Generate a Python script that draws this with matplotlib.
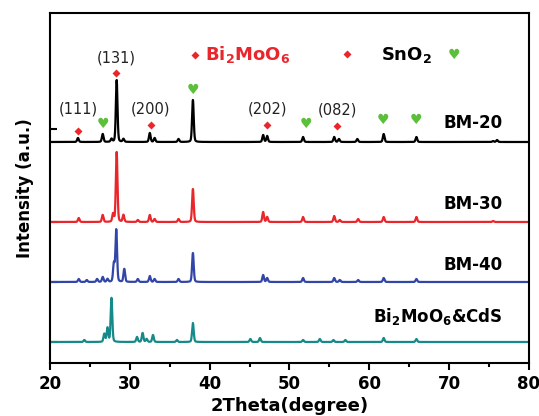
import numpy as np
from matplotlib import pyplot as plt

# peak positions (2theta) and heights, per sample
bm20_pos = [23.5, 26.6, 27.7, 28.35, 29.2, 32.5, 33.1, 36.1, 37.9, 46.7, 47.2, 51.7, 55.6, 56.2, 58.5, 61.8, 65.9, 75.5, 76.0]
bm20_h = [4, 8, 3, 62, 3, 9, 4, 3, 42, 7, 6, 5, 5, 3, 3, 8, 5, 1, 2]
bm30_pos = [23.6, 26.6, 27.9, 28.35, 29.2, 31.0, 32.5, 33.1, 36.1, 37.9, 46.7, 47.2, 51.7, 55.6, 56.3, 58.6, 61.8, 65.9, 75.5]
bm30_h = [4, 7, 8, 70, 7, 2, 7, 3, 3, 33, 10, 5, 5, 6, 2, 3, 5, 5, 1]
bm40_pos = [23.6, 24.6, 25.9, 26.6, 27.2, 28.0, 28.3, 29.3, 31.0, 32.5, 33.1, 36.1, 37.9, 46.7, 47.2, 51.7, 55.6, 56.3, 58.6, 61.8, 65.9]
bm40_h = [3, 2, 3, 5, 3, 18, 52, 13, 3, 6, 3, 3, 29, 7, 4, 4, 4, 2, 2, 4, 3]
cds_pos = [24.3, 26.8, 27.2, 27.7, 30.9, 31.6, 32.1, 32.9, 35.9, 37.9, 45.1, 46.3, 51.7, 53.8, 55.5, 57.0, 61.8, 65.9]
cds_h = [2, 8, 14, 44, 5, 9, 3, 7, 2, 19, 3, 4, 2, 3, 2, 2, 4, 3]

samples = ['BM-20', 'BM-30', 'BM-40', r'$\mathbf{Bi_2MoO_6}$&CdS']
offsets = [221, 141, 81, 21]
colors = ['black', '#e8262b', '#3246a8', '#16898a']

# reflections marked on the BM-20 pattern
bmo_marks = [23.5, 28.3, 32.6, 47.2, 56.0]
bmo_mark_y = [232, 290, 238, 238, 237]
bmo_hkl = ['(111)', '(131)', '(200)', '(202)', '(082)']
bmo_hkl_y = [254, 305, 254, 254, 253]
sno_marks = [26.6, 37.9, 52.1, 61.7, 65.8]
sno_mark_y = [239, 273, 239, 243, 243]

x = np.linspace(20, 80, 4000)


def pattern(pos, h, w=0.12):
    # pseudo-voigt, mostly gaussian
    y = np.zeros_like(x)
    for p, a in zip(pos, h):
        g = np.exp(-0.5 * ((x - p) / (w * 0.85)) ** 2)
        l = 1 / (1 + ((x - p) / w) ** 2)
        y += a * (0.75 * g + 0.25 * l)
    return y


fig = plt.figure(figsize=(5.39, 4.16), dpi=100)
ax = fig.add_axes([0.0928, 0.1274, 0.8886, 0.8414])

data = [(bm20_pos, bm20_h), (bm30_pos, bm30_h), (bm40_pos, bm40_h), (cds_pos, cds_h)]
for (pos, h), off, c in zip(data, offsets, colors):
    ax.plot(x, pattern(pos, h) + off, color=c, lw=1.6)

label_y = [240, 159, 98, 46]
for name, ly in zip(samples, label_y):
    ax.text(76.7, ly, name, ha='right', va='center', fontsize=12, fontweight='bold')

for m, my in zip(bmo_marks, bmo_mark_y):
    ax.plot(m, my, 'D', color='#e8262b', ms=4, mec='none')
for m, t, ty in zip(bmo_marks, bmo_hkl, bmo_hkl_y):
    ax.text(m, ty, t, ha='center', va='center', fontsize=10.5, color='#222222')
for m, my in zip(sno_marks, sno_mark_y):
    ax.text(m, my, '\u2665', ha='center', va='center', fontsize=10, color='#5cbf3a')

# legend row
ax.plot(38.1, 308, 'D', color='#e8262b', ms=4, mec='none')
ax.text(39.4, 308, r'$\mathbf{Bi_2MoO_6}$', ha='left', va='center', fontsize=13, color='#e8262b')
ax.plot(57.2, 309, 'D', color='#e8262b', ms=4, mec='none')
ax.text(61.5, 308, r'$\mathbf{SnO_2}$', ha='left', va='center', fontsize=13)
ax.text(70.6, 308, '\u2665', ha='center', va='center', fontsize=10, color='#5cbf3a')

ax.set_xlim(20, 80)
ax.set_ylim(0, 350)
ax.set_xticks(range(20, 81, 10))
ax.set_xticks(range(25, 80, 10), minor=True)
ax.tick_params(axis='x', which='major', direction='out', length=5, width=1.5, labelsize=12)
ax.tick_params(axis='x', which='minor', direction='out', length=3, width=1.5)
for lab in ax.get_xticklabels():
    lab.set_fontweight('bold')

ax.set_yticks([234, 141, 81, 21])
ax.set_yticklabels([])
ax.tick_params(axis='y', direction='in', length=5, width=1.5)
for t, c in zip(ax.yaxis.get_major_ticks(), colors):
    t.tick1line.set_color(c)

for s in ax.spines.values():
    s.set_linewidth(1.5)

ax.set_xlabel('2Theta(degree)', fontsize=13, fontweight='bold', labelpad=3)
ax.set_ylabel('Intensity (a.u.)', fontsize=12, fontweight='bold', labelpad=8)

plt.savefig('out.png', dpi=100)
